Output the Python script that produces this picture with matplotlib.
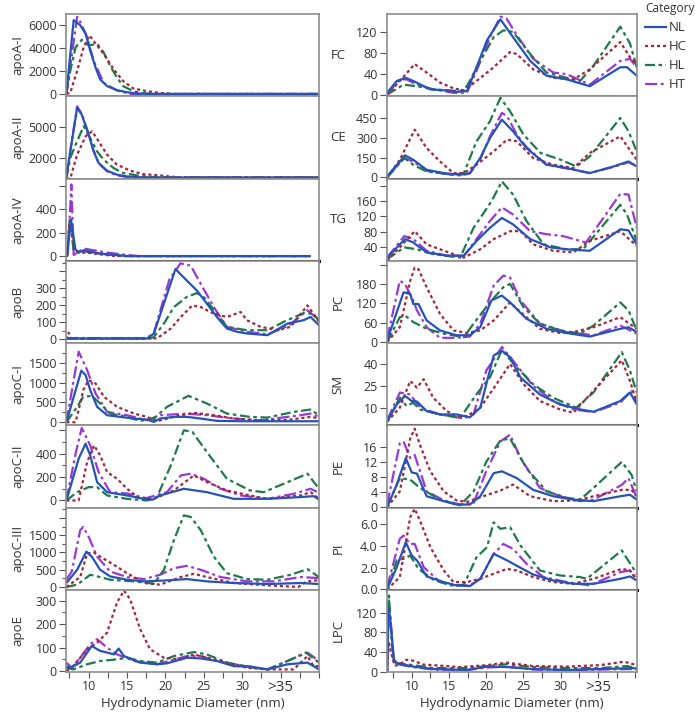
import matplotlib
matplotlib.use("Agg")
import matplotlib.pyplot as plt
from matplotlib.ticker import FixedLocator, MultipleLocator, FuncFormatter

plt.rcParams["font.family"] = ["Open Sans", "DejaVu Sans"]

# ---------------- data (x = hydrodynamic diameter nm, y = abundance) ----------------
CATEGORIES = ["NL", "HC", "HL", "HT"]

APOA1 = {
    "NL": [(7.1, 0), (8.05, 6430), (8.9, 5990), (9.6, 5260), (10.2, 3780), (10.9, 2300), (11.5, 1270),
           (12.4, 680), (13.7, 330), (15, 150), (16.3, 35), (18, 0), (40, 0)],
    "HT": [(7.1, 0), (8.5, 6720), (8.9, 6280), (9.8, 4960), (10.65, 2890), (11.95, 970), (13.7, 300),
           (15.5, 0), (40, 0)],
    "HL": [(7.1, 0), (7.6, 2000), (8.3, 4070), (9.1, 4720), (10, 4220), (11.1, 4370), (11.95, 3630),
           (12.8, 2450), (13.7, 1420), (14.5, 680), (15.8, 240), (17.1, 60), (18.5, 0), (40, 0)],
    "HC": [(7.1, 0), (7.6, 90), (8.5, 2000), (9.35, 4070), (10.1, 5100), (11.1, 4220), (11.95, 3490),
           (13.25, 2160), (14.5, 1120), (15.8, 480), (17.6, 240), (19.3, 90), (21, 0), (40, 0)],
}

APOA2 = {
    "NL": [(7.1, 200), (8.5, 6890), (9.1, 6240), (10, 4290), (10.65, 2650), (11.3, 1510), (12.4, 760),
           (13.7, 370), (15, 200), (17, 100), (40, 100)],
    "HT": [(7.1, 200), (8.5, 7050), (9.1, 6300), (10, 4350), (10.65, 2700), (11.3, 1500), (12.4, 700),
           (13.7, 300), (15, 150), (17, 100), (40, 100)],
    "HL": [(7.1, 0), (7.6, 2000), (8.3, 3300), (9.35, 5100), (10.2, 3950), (11.1, 2650), (11.95, 1840),
           (13.25, 1020), (14.5, 530), (16.3, 300), (17.6, 200), (19, 100), (40, 100)],
    "HC": [(7.1, 0), (7.6, 0), (8.5, 2330), (9.6, 4120), (10.45, 4610), (11.3, 3630), (12.4, 2330),
           (13.7, 1350), (15.4, 760), (17.1, 430), (19.3, 300), (20.5, 200), (22, 100), (40, 100)],
}

APOA4 = {
    "NL": [(7.1, 0), (7.2, 20), (7.7, 315), (8.27, 60), (8.7, 30), (9.35, 50), (10.2, 40), (11.5, 22),
           (13.3, 10), (15, 0), (38.9, 0)],
    "HT": [(7.1, 0), (7.3, 20), (7.75, 615), (8.05, 10), (9.35, 65), (10.65, 50), (12.4, 30), (15, 10),
           (16.5, 0), (38.9, 0)],
    "HL": [(7.1, 0), (7.2, 0), (7.55, 330), (8.05, 40), (9.35, 40), (11, 25), (13, 10), (15, 0), (38.9, 0)],
    "HC": [(7.1, 0), (7.2, 0), (7.5, 290), (8.3, 30), (9.8, 30), (11.5, 15), (13.5, 0), (38.9, 0)],
}

APOB = {
    "NL": [(7.1, 5), (17.6, 5), (18.5, 35), (21.3, 413), (22.8, 345), (24.1, 287), (25.4, 210), (26.7, 132),
           (28, 64), (29.3, 45), (30.6, 35), (33.3, 25), (35.9, 93), (38, 113), (38.9, 132), (40, 83)],
    "HT": [(7.1, 8), (17.6, 8), (18.5, 40), (20.5, 350), (21.96, 447), (23.3, 433), (24.6, 326), (26.3, 190),
           (28, 74), (30.6, 45), (33.3, 30), (36, 80), (38.5, 171), (40, 113)],
    "HL": [(7.1, 5), (18, 5), (18.5, 15), (19.8, 93), (21.1, 190), (22.8, 250), (24.1, 272), (25, 248),
           (26.7, 151), (28, 74), (30.6, 54), (33.3, 54), (35.4, 103), (38, 155), (39.3, 150), (40, 110)],
    "HC": [(7.1, 0), (7.4, 40), (7.7, 5), (18.9, 6), (20.7, 64), (22, 132), (23.5, 200), (24.6, 190),
           (26.3, 151), (28, 132), (29.8, 161), (30.6, 113), (32.4, 74), (34.6, 54), (36.3, 74), (38.5, 200),
           (40, 103)],
}

APOC1 = {
    "NL": [(7.1, 0), (9.04, 1300), (9.6, 1190), (10.2, 810), (11.1, 390), (12.4, 177), (14.1, 135), (15.9, 93),
           (17.6, 67), (18.5, 8), (19.3, 93), (21.1, 135), (22.8, 135), (24.6, 93), (26.7, 34), (30, 25), (40, 25)],
    "HT": [(7.1, 0), (8.7, 1780), (9.8, 1315), (10.9, 725), (12.4, 261), (15, 177), (17.6, 50), (19.3, 177),
           (22.8, 219), (25.4, 177), (28.9, 93), (32.4, 50), (37.6, 177), (38.9, 219), (40, 135)],
    "HL": [(7.1, 0), (8.5, 388), (9.3, 641), (10.4, 666), (11.5, 472), (12.8, 219), (15, 135), (16.7, 34),
           (18.5, 93), (20.2, 388), (23, 666), (25.4, 472), (28, 219), (31, 135), (33.3, 118), (36.7, 261),
           (38.9, 320), (40, 177)],
    "HC": [(7.1, 0), (8.3, 0), (9.3, 810), (10, 1062), (10.9, 978), (12, 641), (13.7, 388), (15.9, 219),
           (17.6, 135), (18.9, 25), (21.1, 135), (23.7, 236), (26.3, 177), (28.9, 93), (32, 50), (36, 60),
           (38.9, 135), (40, 100)],
}

APOC2 = {
    "NL": [(7.1, 0), (8.7, 357), (9.6, 486), (10.2, 386), (11.1, 157), (12.4, 71), (15, 43), (17.2, 14),
           (18.3, 6), (19.3, 43), (22.4, 100), (25.4, 71), (28.9, 14), (33.3, 14), (37.6, 29), (39.3, 37), (40, 9)],
    "HT": [(7.1, 0), (8.3, 400), (9.1, 620), (10.2, 471), (11.3, 243), (12.8, 71), (15, 60), (17.5, 20),
           (20.2, 71), (22, 214), (23.3, 229), (25, 186), (27.2, 100), (29.8, 43), (33.3, 14), (36.7, 57),
           (38.9, 100), (40, 66)],
    "HL": [(7.1, 0), (8.5, 71), (10, 114), (11.1, 114), (12.4, 43), (15, 14), (17.6, 0), (18.9, 29),
           (20.7, 300), (22.4, 600), (23.5, 586), (25.4, 414), (28, 186), (31, 86), (32.8, 71), (35.9, 157),
           (38.5, 229), (40, 100)],
    "HC": [(7.1, 0), (8.7, 0), (9.8, 329), (10.7, 471), (11.5, 386), (12.4, 243), (13.7, 186), (15, 100),
           (16.7, 14), (18.5, 14), (21.1, 86), (23.7, 214), (25.4, 157), (28, 86), (31, 43), (33.3, 14),
           (37.6, 43), (38.9, 71), (40, 14)],
}

APOC3 = {
    "NL": [(7.1, 115), (8.5, 497), (9.7, 1022), (10.4, 879), (11.5, 497), (12.8, 306), (15, 210), (17.2, 162),
           (20.2, 191), (22.8, 229), (25.4, 162), (28.9, 115), (33.3, 86), (37.6, 115), (40, 86)],
    "HT": [(7.1, 210), (7.8, 449), (8.9, 1643), (9.3, 1738), (10, 1452), (11.1, 879), (12.8, 449), (15, 287),
           (17.2, 229), (19.3, 353), (21.1, 544), (22.8, 611), (24.6, 497), (27.2, 287), (30.6, 162),
           (34.1, 162), (37.6, 287), (40, 258)],
    "HL": [(7.1, 0), (8.5, 67), (10.2, 353), (11.5, 287), (12.8, 210), (15.9, 162), (18.5, 96), (19.8, 497),
           (21.1, 1356), (22.4, 2073), (23.3, 2025), (24.6, 1643), (26.3, 879), (28, 401), (30.6, 229),
           (33.3, 210), (36.3, 353), (38.5, 516), (40, 287)],
    "HC": [(7.1, 0), (8.9, 287), (9.8, 974), (10.7, 993), (11.5, 879), (13.3, 640), (15, 401), (17.2, 115),
           (19.3, 67), (22, 287), (23.7, 382), (25.4, 287), (28.9, 115), (33.3, 48), (37.3, 0), (38.3, 150),
           (40, 200)],
}

APOE = {
    "NL": [(7.1, 21), (7.6, 14), (8.9, 36), (10.4, 107), (11.5, 86), (12.4, 79), (13.3, 71), (13.9, 96),
           (14.6, 64), (16.7, 36), (18.9, 29), (20.2, 33), (22.8, 57), (24.6, 54), (26.7, 43), (28.9, 21),
           (31.1, 19), (33.3, 7), (35.9, 29), (38.5, 36), (40, 7)],
    "HT": [(7.1, 36), (7.8, 14), (8.9, 57), (10.2, 114), (11.1, 136), (12.4, 100), (13.7, 71), (15.9, 43),
           (18.9, 29), (22.8, 64), (24.6, 64), (26.7, 43), (28.9, 29), (33.3, 7), (35.9, 43), (38.5, 79), (40, 43)],
    "HL": [(7.1, 14), (8, 7), (9.8, 29), (11.5, 43), (13.7, 50), (15, 57), (16.7, 43), (18.9, 36), (21.1, 64),
           (23.7, 81), (25.4, 71), (28, 36), (31.5, 14), (33.3, 7), (35.9, 43), (38.3, 79), (40, 36)],
    "HC": [(7.1, 0), (8, 21), (9.8, 93), (11.1, 121), (12.4, 164), (13.7, 293), (14.6, 343), (15.4, 307),
           (16.7, 179), (18, 93), (19.8, 57), (22, 50), (23.7, 71), (25.4, 57), (28, 36), (30.6, 14), (33.3, 7),
           (36.7, 7), (38.5, 64), (39.3, 21), (40, 21)],
}

FC = {
    "NL": [(6.7, 4.5), (8, 27), (9.2, 33), (10.2, 27), (12.5, 11), (14.7, 9), (16, 6.4), (17.4, 7.7), (18.7, 53),
           (20.1, 104), (21.9, 144), (23.6, 110), (25.9, 65), (28.1, 37), (30.8, 30), (33.9, 17), (38, 53),
           (38.9, 53), (40.2, 37)],
    "HT": [(6.7, 2.6), (8.4, 30), (9.3, 30), (10.7, 20), (12.9, 11), (15.6, 4.5), (17.4, 4.5), (18.7, 46),
           (20.5, 110), (21.9, 149), (22.7, 146), (24.1, 114), (26.3, 69), (29, 43), (30.8, 40), (33.9, 20),
           (38, 65), (39.3, 69), (40.2, 53)],
    "HL": [(6.7, 1.3), (8.9, 20), (10.7, 17), (12.9, 11), (16.5, 7.7), (17.4, 17), (19.2, 65), (21, 110),
           (22.3, 123), (23.6, 120), (25.9, 78), (28.1, 43), (30.8, 33), (32.6, 27), (34.4, 56), (38, 130),
           (39.3, 98), (40.2, 53)],
    "HC": [(6.7, 0), (8.4, 27), (10.4, 59), (12, 43), (13.8, 24), (15.6, 13), (17, 9), (18.7, 27), (21, 53),
           (23.2, 82), (24.1, 78), (26.3, 49), (29, 33), (31.7, 30), (33.9, 49), (38, 101), (39.3, 72), (40.2, 59)],
}

CE = {
    "NL": [(6.7, 8), (9.1, 167), (10.2, 134), (12, 58), (14.3, 33), (16.5, 20), (17.8, 33), (19.2, 147),
           (20.5, 298), (22.1, 437), (23.6, 349), (25.4, 222), (28.1, 96), (30.8, 71), (33.9, 33), (37.1, 83),
           (39.1, 121), (40.2, 83)],
    "HT": [(6.7, 5), (9, 147), (10.2, 120), (12, 50), (14.3, 28), (16.5, 15), (17.8, 30), (19.2, 140),
           (20.5, 310), (22.1, 488), (22.8, 463), (24.1, 324), (25.4, 230), (28.1, 96), (30.8, 68), (33.9, 33),
           (37.1, 80), (39.1, 115), (40.2, 85)],
    "HL": [(6.7, 0), (9, 147), (10.2, 96), (12, 45), (15.6, 20), (17, 33), (18.7, 273), (20.5, 425),
           (21.9, 602), (23.2, 500), (25, 324), (27.3, 185), (30, 134), (32.1, 83), (33.9, 159), (38, 450),
           (39.1, 349), (40.2, 197)],
    "HC": [(6.7, 0), (8.4, 134), (10.4, 361), (12, 222), (13.8, 121), (15.6, 33), (17, 33), (18.7, 96),
           (21, 197), (22.8, 286), (24.1, 273), (26.3, 147), (29, 96), (31.7, 71), (33.9, 185), (38, 311),
           (40.2, 134)],
}

TG = {
    "NL": [(6.7, 11), (9.1, 60), (10.2, 51), (12, 25), (14.7, 16), (17, 16), (18.7, 55), (20.5, 90), (22.1, 116),
           (23.6, 99), (25.9, 60), (28.6, 38), (30.8, 33), (33.9, 29), (38, 86), (39.1, 83), (40.2, 46)],
    "HT": [(6.7, 11), (9, 68), (10.2, 60), (12, 29), (14.7, 16), (17, 16), (18.7, 60), (20.5, 108), (22.1, 144),
           (23.6, 125), (25.9, 81), (28.1, 73), (30.3, 68), (33.4, 51), (38, 180), (39.1, 178), (40.2, 90)],
    "HL": [(6.7, 7), (9, 38), (10.7, 33), (12.9, 20), (16.5, 11), (18.3, 90), (19.2, 116), (20.7, 160),
           (22.1, 213), (23.6, 178), (25.4, 108), (27.7, 46), (30.8, 33), (33, 33), (38, 151), (38.9, 125),
           (40.2, 55)],
    "HC": [(6.7, 3), (8.4, 38), (10.4, 81), (12, 46), (13.8, 33), (15.6, 20), (17, 11), (19.2, 33), (21, 60),
           (23.2, 81), (24.6, 81), (26.3, 46), (29, 29), (31.7, 25), (33.9, 55), (38, 81), (40.2, 42)],
}

PC = {
    "NL": [(6.7, 5), (8.9, 154), (9.8, 149), (10.2, 118), (10.9, 118), (12, 67), (13.8, 36), (16, 21),
           (17.8, 21), (19.2, 46), (20.7, 129), (22.1, 144), (23.2, 123), (25.4, 72), (28.1, 41), (30.8, 28),
           (33.9, 17), (38, 41), (39.1, 46), (40.2, 31)],
    "HT": [(6.7, 10), (8.4, 190), (9.1, 180), (10.2, 129), (10.7, 98), (12, 46), (13.8, 13), (16, 13),
           (17.8, 17), (19.2, 57), (21, 175), (22.3, 206), (23.2, 200), (24.6, 129), (27.2, 57), (30.8, 31),
           (34.4, 21), (38, 51), (40.2, 26)],
    "HL": [(6.7, 0), (8.4, 77), (9.1, 82), (10.2, 62), (12, 41), (14.3, 26), (17, 15), (18.3, 57), (20.5, 123),
           (22.3, 170), (23.2, 180), (25, 108), (27.2, 57), (29.9, 36), (32.6, 26), (34.4, 51), (38, 123),
           (39.1, 98), (40.2, 36)],
    "HC": [(6.7, 0), (8.4, 46), (9.8, 190), (10.4, 231), (10.9, 226), (12, 170), (13.8, 87), (15.6, 36),
           (17.4, 28), (19.2, 36), (21, 67), (23.2, 123), (24.6, 93), (27.2, 41), (29.9, 28), (31.7, 31),
           (34.4, 46), (38, 77), (40.2, 41)],
}

SM = {
    "NL": [(6.7, 1.3), (8, 12.7), (9.1, 18.4), (10, 15), (10.7, 14.6), (12, 8.2), (13.8, 5.9), (16, 5.9),
           (17.8, 4), (19.2, 10.5), (21, 45.7), (22.1, 49.1), (23.2, 44.6), (24.6, 30.9), (27.2, 19.4),
           (29.9, 12.7), (32.6, 9.3), (34.4, 7.7), (38, 15), (39.3, 20.8), (40.2, 12.7)],
    "HT": [(6.7, 2), (8.4, 20.7), (9.8, 19.5), (11.1, 10.5), (13.8, 5.9), (17, 3.2), (18.3, 5.9), (20, 35.5),
           (22.1, 51.5), (23.6, 42.3), (26.3, 25.2), (29, 15), (31.7, 9.3), (34.4, 7.5), (38, 13.9),
           (39.5, 21.9), (40.2, 13.9)],
    "HL": [(6.7, 1), (8.4, 17.3), (9.3, 11.6), (10.2, 13.9), (11.1, 9.3), (13.8, 5.9), (16.5, 3.6), (18.7, 19.6),
           (20.5, 31), (22.1, 49.5), (24.1, 37.7), (26.3, 26.3), (29, 17.1), (32.1, 10.5), (34.4, 20.8),
           (38.2, 48), (39.3, 35.5), (40.2, 20.8)],
    "HC": [(6.7, 1), (8.4, 10.5), (9.8, 28.5), (10.7, 24), (11.6, 29.7), (12.9, 17.1), (14.7, 8.2), (16, 4.8),
           (17.4, 4.8), (19.2, 10.5), (21.4, 26.5), (23.2, 40), (25, 26.5), (27.2, 15), (29.9, 9.3), (31.7, 7.1),
           (34.4, 21.9), (38.2, 42.5), (39.3, 28.5), (40.2, 13.9)],
}

PE = {
    "NL": [(6.7, 0), (8, 6), (9.2, 13), (10, 9.2), (10.7, 8.9), (12, 2.9), (14.3, 1.6), (16, 0.7), (17.8, 0.7),
           (19.2, 2.9), (21, 9), (22.1, 9.5), (24.1, 7.7), (26.3, 4.6), (29, 2.9), (31.7, 2), (34.4, 1.6),
           (38, 2.9), (39.3, 3.3), (40.2, 2)],
    "HT": [(6.7, 0.7), (8.4, 16.9), (8.9, 17.4), (9.8, 13), (10.4, 13.8), (12, 4.2), (14.3, 1.8), (16.5, 0.7),
           (18.3, 1.1), (20, 9.5), (21.9, 17.4), (23.2, 19.2), (24.6, 13), (27.2, 5.1), (29.9, 2.9), (32.6, 1.6),
           (34.4, 2), (38.2, 5.9), (39.1, 7.7), (40.2, 2.5)],
    "HL": [(6.7, 0.3), (8.4, 7.7), (9.8, 7.3), (11.1, 5.1), (13.8, 2), (16.5, 0.5), (18.3, 4.2), (20, 12),
           (21.9, 17.7), (23.2, 18.2), (25.4, 10.3), (28.1, 4.2), (30.8, 2.5), (32.6, 2), (34.4, 5.1), (38.2, 12),
           (39.5, 8.6), (40.2, 4.2)],
    "HC": [(6.7, 0), (8.4, 4.2), (9.8, 18.2), (10.4, 20.8), (11.1, 16.5), (12.5, 9.5), (14.3, 4.2), (16, 1.8),
           (17.4, 1.4), (19.6, 2.9), (21.9, 4.4), (23.6, 6), (25.9, 2.9), (29, 1.6), (32.1, 1.8), (34.4, 2.9),
           (38.2, 4.6), (39.5, 4.6), (40.2, 2.9)],
}

PI = {
    "NL": [(6.7, 0.06), (8, 2.06), (9.2, 4.37), (10, 3.14), (10.7, 2.68), (12, 1.2), (14.3, 0.68), (16, 0.37),
           (17.8, 0.31), (19.2, 0.98), (21, 3.29), (22.8, 2.68), (24.6, 2), (26.3, 1.38), (29, 0.83), (31.7, 0.52),
           (34.4, 0.52), (38, 0.98), (39.3, 1.2), (40.2, 0.83)],
    "HT": [(6.7, 0.2), (8.4, 4.68), (8.9, 4.98), (9.8, 4.2), (10.4, 4.2), (11.6, 2.06), (13.8, 0.68), (16, 0.37),
           (17.8, 0.37), (19.2, 0.98), (21, 3.29), (22.3, 4.2), (23.6, 3.75), (25.4, 2.37), (27.7, 1.14),
           (30.8, 0.68), (33.9, 0.37), (38, 1.6), (39.3, 1.75), (40.2, 0.83)],
    "HL": [(6.7, 0.06), (8, 2.68), (8.9, 2.83), (9.8, 3.14), (10.9, 1.9), (12.9, 0.9), (15.2, 0.37), (17, 0.43),
           (18.7, 2.98), (20.1, 3.9), (21, 6.2), (21.9, 5.6), (23.2, 5.75), (24.6, 4.06), (27.2, 1.75),
           (29.9, 1.29), (32.6, 1.14), (33.5, 0.98), (38.2, 3.6), (40.2, 1.45)],
    "HC": [(6.7, 0), (8.4, 1.14), (9.8, 6.68), (10.4, 7.45), (11.1, 6.37), (12.5, 3.9), (14.3, 1.75),
           (15.6, 0.68), (17.4, 0.68), (19.2, 0.98), (21, 1.45), (22.8, 1.9), (24.1, 1.75), (26.3, 1.14),
           (29, 0.68), (31.7, 0.52), (34.4, 0.98), (38.2, 1.9), (39.3, 1.75), (40.2, 0.98)],
}

LPC = {
    "NL": [(6.7, 0), (6.85, 130), (7.1, 110), (7.6, 25), (8, 17), (10.2, 10), (12.9, 5), (17.4, 3), (20.1, 10),
           (22.8, 9), (26.3, 5), (30.8, 3), (35.3, 5), (39.8, 7), (40.2, 5)],
    "HT": [(6.7, 0), (6.9, 140), (7.2, 100), (7.6, 20), (8, 15), (10.2, 9), (12.9, 4), (17.4, 3), (20.1, 8),
           (22.8, 10), (26.3, 4), (30.8, 3), (35.3, 4), (39.8, 5), (40.2, 4)],
    "HL": [(6.7, 0), (6.95, 155), (7.3, 60), (7.6, 20), (8, 17), (10.2, 13), (12.9, 7), (17.4, 7), (20.1, 11),
           (22.8, 15), (26.3, 9), (30.8, 7), (35.3, 7), (38.9, 11), (40.2, 7)],
    "HC": [(6.7, 0), (6.9, 60), (7.2, 40), (7.7, 12), (8.2, 13), (9.3, 24), (10.2, 22), (11.6, 14), (12.9, 13),
           (16.5, 9), (20.1, 13), (22.8, 18), (26.3, 11), (30.8, 10), (35.3, 13), (38.5, 20), (40.2, 13)],
}

X_TICKS = [10, 15, 20, 25, 30, 35]
X_TICK_LABELS = ["10", "15", "20", "25", "30", ">35"]

# ---------------- styles ----------------
COLORS = {"NL": "#2553b8", "HC": "#a3263c", "HL": "#1e7a48", "HT": "#9a38d6"}
DASHES = {"NL": "-", "HC": (0, (1.4, 1.3)), "HL": (0, (4.5, 1.6, 1.6, 1.6)), "HT": (0, (5.5, 1.6, 1.3, 1.6))}
DRAW_ORDER = ["HT", "HL", "HC", "NL"]
SPINE_GRAY = "#8c8c8c"

# (data, label, ylim, ticks, label_max, rotate_label, minor_step, thick_bottom)
LEFT = [
    (APOA1, "apoA-I", (-200, 6965), [0, 2000, 4000, 6000], 6000, True, None, False),
    (APOA2, "apoA-II", (0, 8030), [2000, 5000], 5000, True, None, False),
    (APOA4, "apoA-IV", (-40, 666), [0, 200, 400, 600], 400, True, None, True),
    (APOB, "apoB", (-21, 462), [0, 100, 200, 300, 400], 300, True, 50, False),
    (APOC1, "apoC-I", (-76, 1998), [0, 500, 1000, 1500], 1500, True, 250, False),
    (APOC2, "apoC-II", (-60, 643), [0, 200, 400, 600], 400, True, 100, False),
    (APOC3, "apoC-III", (-80, 2300), [0, 500, 1000, 1500, 2000], 1500, True, 250, False),
    (APOE, "apoE", (-4, 347), [0, 100, 200, 300], 300, True, 50, False),
]
RIGHT = [
    (FC, "FC", (-2, 154), [0, 40, 80, 120], 120, False, None, False),
    (CE, "CE", (-8, 614), [0, 150, 300, 450], 450, False, None, True),
    (TG, "TG", (2.6, 220.6), [40, 80, 120, 160, 200], 160, False, None, False),
    (PC, "PC", (-3, 252), [0, 60, 120, 180, 240], 180, True, None, False),
    (SM, "SM", (-1.4, 54.2), [10, 25, 40], 40, True, None, True),
    (PE, "PE", (-0.08, 21.7), [0, 4, 8, 12, 16], 16, True, None, True),
    (PI, "PI", (-0.03, 7.57), [0, 2, 4, 6], 6, True, None, True),
    (LPC, "LPC", (-1, 166.5), [0, 40, 80, 120], 120, True, None, False),
]


def tick_fmt(label_max, decimals):
    def f(v, pos):
        if v > label_max + 1e-9:
            return ""
        return f"{v:.1f}" if decimals else f"{v:g}"
    return FuncFormatter(f)


def draw_column(fig, panels, x0, width, xlim, label_x):
    top_px, bottom_px, H = 14, 672, 717
    h = (bottom_px - top_px) / len(panels)
    axes = []
    for i, (data, name, ylim, ticks, lmax, rot, minor, thick) in enumerate(panels):
        y0 = 1 - (top_px + (i + 1) * h) / H
        ax = fig.add_axes([x0, y0, width, h / H])
        for cat in DRAW_ORDER:
            xs, ys = zip(*data[cat])
            ax.plot(xs, ys, color=COLORS[cat], linestyle=DASHES[cat], lw=1.6,
                    solid_capstyle="butt", dash_capstyle="butt")
        ax.set_xlim(*xlim)
        ax.set_ylim(*ylim)
        ax.yaxis.set_major_locator(FixedLocator(ticks))
        ax.yaxis.set_major_formatter(tick_fmt(lmax, name == "PI"))
        if minor:
            ax.yaxis.set_minor_locator(MultipleLocator(minor))
        ax.tick_params(axis="y", which="major", length=5, width=0.8, color="#555555",
                       labelsize=9, labelcolor="#333333", pad=1.5)
        ax.tick_params(axis="y", which="minor", length=3, width=0.8, color="#555555")
        ax.xaxis.set_major_locator(FixedLocator(X_TICKS))
        ax.xaxis.set_minor_locator(MultipleLocator(2.5))
        for s in ax.spines.values():
            s.set_color(SPINE_GRAY)
            s.set_linewidth(1.2)
        if thick:
            ax.spines["bottom"].set_color("black")
            ax.spines["bottom"].set_linewidth(2.2)
            ax.spines["bottom"].set_zorder(5)
        if i < len(panels) - 1:
            ax.tick_params(axis="x", which="both", bottom=False, labelbottom=False)
        else:
            ax.set_xticklabels(X_TICK_LABELS)
            ax.tick_params(axis="x", which="both", length=4, width=0.8, color="#555555",
                           labelsize=9, labelcolor="#333333", pad=2)
            ax.get_xticklabels()[-1].set_fontsize(11)
            ax.set_xlabel("Hydrodynamic Diameter (nm)", fontsize=9.5, color="#333333", labelpad=1)
        ax.text(label_x, 0.5, name, transform=ax.transAxes, rotation=90 if rot else 0,
                ha="center", va="center", fontsize=9.5, color="#333333")
        axes.append(ax)
    return axes


fig = plt.figure(figsize=(6.95, 7.17), dpi=100)

draw_column(fig, LEFT, 66 / 695, 253 / 695, (7.05, 40.0), -0.19)
draw_column(fig, RIGHT, 386.7 / 695, 250 / 695, (6.64, 40.2), -0.195)

# legend
handles = [plt.Line2D([], [], color=COLORS[c], linestyle=DASHES[c], lw=1.6) for c in CATEGORIES]
leg = fig.legend(handles, CATEGORIES, loc="upper left", bbox_to_anchor=(640 / 695, 1.004),
                 frameon=False, title="Category", fontsize=9.5, title_fontsize=8.6,
                 handlelength=1.6, handletextpad=0.15, labelspacing=0.45, borderaxespad=0,
                 alignment="left")
for t in leg.get_texts():
    t.set_color("#333333")
leg.get_title().set_color("#333333")

fig.savefig("out.png", dpi=100)
